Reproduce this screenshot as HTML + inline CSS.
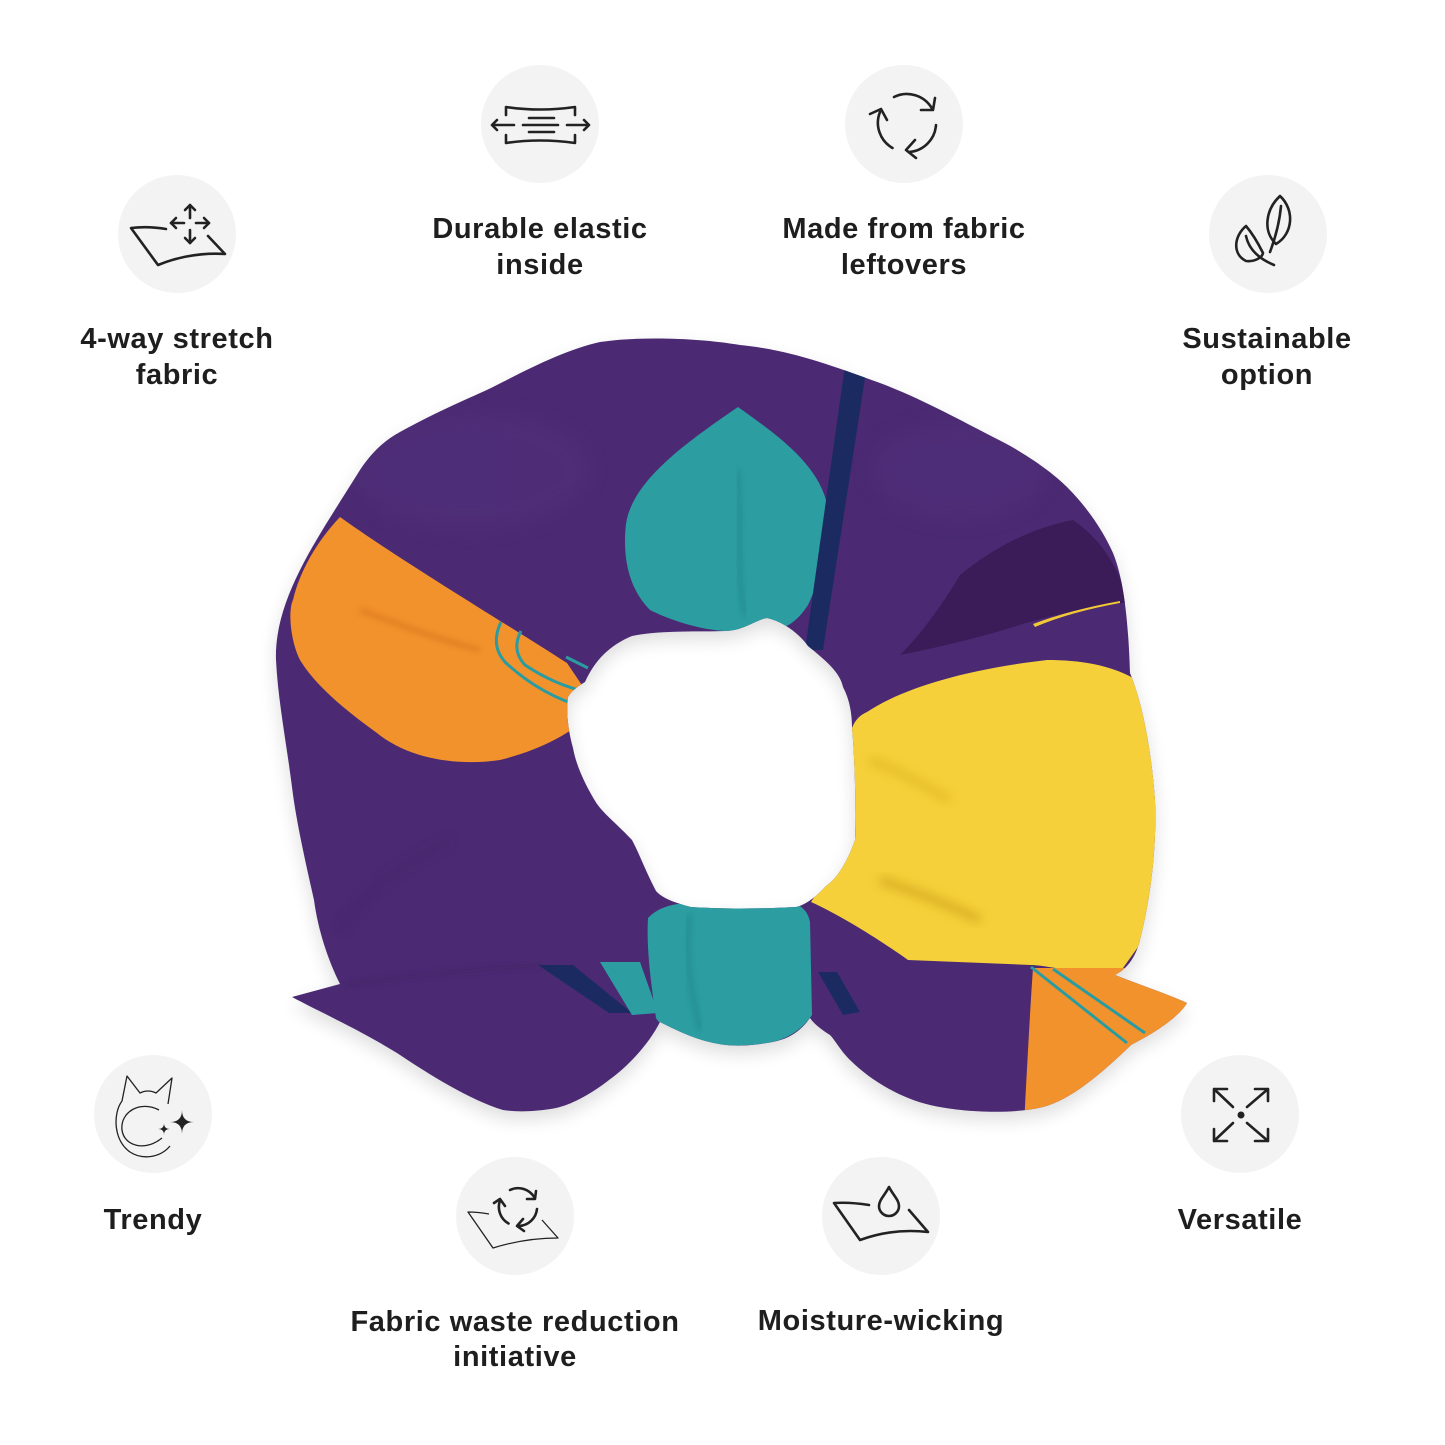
<!DOCTYPE html>
<html><head><meta charset="utf-8"><style>
html,body{margin:0;padding:0;background:#fff;}
svg{display:block;}
text{font-family:"Liberation Sans",Arial,sans-serif;font-weight:bold;font-size:29px;fill:#1e1e1e;letter-spacing:0.6px;}
</style></head><body>
<svg width="1445" height="1445" viewBox="0 0 1445 1445" xmlns="http://www.w3.org/2000/svg">
<defs>
<filter id="blur8" x="-20%" y="-20%" width="140%" height="140%"><feGaussianBlur stdDeviation="9"/></filter>
<filter id="blur3" x="-20%" y="-20%" width="140%" height="140%"><feGaussianBlur stdDeviation="3"/></filter>
<filter id="blur5" x="-20%" y="-20%" width="140%" height="140%"><feGaussianBlur stdDeviation="5"/></filter>
<path id="outer" d="M292,997 L340,984 C328,960 318,930 314,900 C305,860 296,820 292,787 C286,740 278,700 276,660 C275,630 285,600 300,570 C315,540 335,510 360,470 C372,452 385,440 400,432 C440,410 470,398 493,387 C530,368 565,350 600,342 C640,336 700,338 740,345 C790,350 830,365 880,383 C920,398 960,420 993,437 C1020,450 1050,470 1067,487 C1090,510 1105,535 1113,553 C1122,575 1128,610 1130,673 C1145,710 1152,760 1155,800 C1157,850 1150,900 1140,940 C1135,960 1125,970 1115,975 C1140,985 1170,995 1187,1003 C1180,1015 1160,1030 1131,1045 C1100,1075 1070,1100 1043,1107 C1010,1115 960,1112 930,1105 C900,1098 870,1080 850,1060 C840,1050 835,1040 830,1035 C822,1030 814,1024 810,1018 C800,1032 788,1040 767,1043 C750,1046 735,1046 726,1045 C700,1042 680,1032 660,1022 C650,1042 630,1065 609,1080 C590,1095 570,1105 556,1108 C535,1112 515,1112 503,1110 C470,1100 430,1075 397,1053 C360,1030 320,1012 292,997 Z M585,682 C595,660 610,645 632,636 C660,630 700,632 726,631 C745,630 755,620 767,618 C785,622 800,635 808,646 C825,660 840,672 843,687 C850,700 852,715 852,728 C855,760 856,810 855,840 C848,860 838,878 826,886 C815,898 805,905 796,907 C760,909 720,909 691,907 C675,903 662,898 656,891 C645,870 640,855 632,840 C618,825 605,815 597,804 C585,785 576,765 573,748 C568,730 566,712 568,697 C572,690 580,685 585,682 Z"/>
<clipPath id="body"><use href="#outer" clip-rule="evenodd"/></clipPath>
</defs>

<use href="#outer" fill="#000" fill-rule="evenodd" opacity="0.13" filter="url(#blur8)" transform="translate(0,8)"/>

<g clip-path="url(#body)">
  <rect x="250" y="320" width="960" height="820" fill="#4b2a73"/>
  <ellipse cx="470" cy="470" rx="120" ry="60" fill="#55347e" opacity="0.35" filter="url(#blur8)"/>
  <ellipse cx="960" cy="470" rx="90" ry="50" fill="#55347e" opacity="0.35" filter="url(#blur8)"/>
  <path d="M340,517 C400,560 500,620 567,663 L592,700 L592,714 C570,734 540,750 500,760 C460,766 410,760 377,733 C345,710 315,685 300,660 C290,640 288,610 293,600 C300,570 318,540 340,517 Z" fill="#f2922d"/>
  <path d="M360,610 C400,625 440,640 480,650" stroke="#d9761c" stroke-width="6" fill="none" opacity="0.6" filter="url(#blur3)"/>
  <g stroke="#2a9ca1" stroke-width="3" fill="none">
    <path d="M501,622 Q490,645 505,662 Q540,695 586,708"/>
    <path d="M521,631 Q511,650 525,665 Q555,685 587,692"/>
    <path d="M566,657 L588,668"/>
  </g>
  <path d="M738,407 C770,430 815,460 826,500 C832,540 820,580 808,605 C795,625 780,632 767,628 C755,635 740,636 726,631 C700,630 670,620 650,610 C630,590 622,560 626,524 C632,480 690,440 738,407 Z" fill="#2c9ea2"/>
  <path d="M738,470 C742,520 735,570 745,615" stroke="#1f7f84" stroke-width="4" fill="none" opacity="0.6" filter="url(#blur3)"/>
  <polygon points="845,365 867,365 823,650 805,650" fill="#1b2b61"/>
  <path d="M960,575 C990,550 1030,528 1073,520 C1095,535 1110,555 1120,578 L1130,602 C1100,606 1060,612 1013,627 C985,636 945,646 900,655 C925,630 945,600 960,575 Z" fill="#3b1c58"/>
  <path d="M1033,624 Q1070,610 1120,601 L1120,603 Q1070,612 1035,627 Z" fill="#f2c935"/>
  <path d="M867,712 C900,690 960,670 1047,660 C1080,660 1110,665 1133,678 C1148,710 1155,760 1158,800 C1160,850 1153,900 1143,940 L1118,975 L1102,977 C1070,970 1040,965 1031,965 L908,960 C880,940 840,915 811,902 C825,880 842,860 855,840 C857,800 852,760 852,728 C855,720 860,715 867,712 Z" fill="#f5d03a"/>
  <path d="M870,760 C900,770 930,790 950,800" stroke="#d7ad1e" stroke-width="7" fill="none" opacity="0.6" filter="url(#blur5)"/>
  <path d="M880,880 C910,890 950,905 980,920" stroke="#c99d14" stroke-width="9" fill="none" opacity="0.6" filter="url(#blur5)"/>
  <polygon points="538,965 573,965 632,1013 609,1013" fill="#1b2b61"/>
  <polygon points="600,962 640,962 658,1013 632,1015" fill="#2c9ea2"/>
  <polygon points="818,972 837,972 860,1012 843,1015" fill="#1b2b61"/>
  <path d="M648,918 C660,905 680,902 700,903 L792,903 C802,905 808,912 810,922 L812,1015 C802,1030 786,1040 767,1043 C745,1047 710,1046 690,1040 C675,1035 662,1028 656,1018 C652,990 646,950 648,918 Z" fill="#2c9ea2"/>
  <path d="M690,915 C685,950 690,990 700,1030" stroke="#1f7f84" stroke-width="4" fill="none" opacity="0.6" filter="url(#blur3)"/>
  <path d="M1033,968 L1210,968 L1210,1125 L1024,1125 C1027,1070 1030,1010 1033,968 Z" fill="#f2922d"/>
  <g stroke="#2a9ca1" stroke-width="3" fill="none">
    <path d="M1031,967 L1127,1043"/>
    <path d="M1053,969 L1145,1033"/>
  </g>
  <path d="M345,985 C420,975 490,968 540,965" stroke="#3d2060" stroke-width="3" fill="none" opacity="0.6" filter="url(#blur3)"/>
  <path d="M340,930 C380,870 420,860 450,840" stroke="#3d2060" stroke-width="6" fill="none" opacity="0.35" filter="url(#blur5)"/>
</g>

<g fill="#f3f3f3">
  <circle cx="177" cy="234" r="59"/>
  <circle cx="540" cy="124" r="59"/>
  <circle cx="904" cy="124" r="59"/>
  <circle cx="1268" cy="234" r="59"/>
  <circle cx="153" cy="1114" r="59"/>
  <circle cx="515" cy="1216" r="59"/>
  <circle cx="881" cy="1216" r="59"/>
  <circle cx="1240" cy="1114" r="59"/>
</g>

<g stroke="#222" stroke-width="2.6" fill="none" stroke-linecap="round" stroke-linejoin="round">
  <path d="M166,229 Q148,226 131,228 L158,265 Q190,252 225,254 L208,236"/>
  <path d="M190,205 L190,218 M190,230 L190,243 M171,223 L184,223 M196,223 L209,223"/>
  <path d="M185,210 L190,205 L195,210 M185,238 L190,243 L195,238 M176,218 L171,223 L176,228 M204,218 L209,223 L204,228"/>
  <path d="M506,115 L506,107 Q540,112 575,107 L575,115"/>
  <path d="M506,135 L506,143 Q540,138 575,143 L575,135"/>
  <path d="M529,118 L554,118 M523,125 L558,125 M529,132 L554,132"/>
  <path d="M492,125 L514,125 M497,120 L492,125 L497,130"/>
  <path d="M567,125 L589,125 M584,120 L589,125 L584,130"/>
  <path d="M894,97 A29,29 0 0 1 932,108.5"/>
  <path d="M921,110 L933,110 L935,98"/>
  <path d="M892.5,148 A29,29 0 0 1 880,112"/>
  <path d="M870,114 L881,109 L887,120"/>
  <path d="M936,125 A29,29 0 0 1 909,152"/>
  <path d="M915,140 L906,150 L916,158"/>
  <path d="M1276,244 C1263,232 1265,210 1280,196 C1295,210 1293,234 1276,244 Z"/>
  <path d="M1281,206 Q1279,228 1270,252"/>
  <path d="M1246,226 C1234,236 1232,254 1246,261 C1254,262 1262,258 1263,253 C1258,243 1252,233 1246,226 Z"/>
  <path d="M1246,236 Q1250,255 1274,265"/>
  <path d="M869,1205 Q850,1202 834,1203 L860,1240 Q893,1228 928,1232 L909,1210"/>
  <path d="M889,1187 C885,1195 879,1200 879,1206 C879,1212 884,1216 889,1216 C894,1216 899,1212 899,1206 C899,1200 893,1195 889,1187 Z"/>
  <path d="M1214,1089 L1233,1107 M1214,1101 L1214,1089 L1227,1089"/>
  <path d="M1268,1089 L1247,1107 M1268,1101 L1268,1089 L1255,1089"/>
  <path d="M1214,1141 L1233,1123 M1214,1129 L1214,1141 L1227,1141"/>
  <path d="M1268,1141 L1247,1123 M1268,1129 L1268,1141 L1255,1141"/>
  <path d="M510,1190 A19,19 0 0 1 534.5,1197.5"/>
  <path d="M527,1199 L535,1199 L536,1191"/>
  <path d="M508.5,1223.5 A19,19 0 0 1 500,1200.5"/>
  <path d="M494,1203 L500,1199 L505,1206"/>
  <path d="M537,1209 A19,19 0 0 1 519,1226"/>
  <path d="M523,1219 L517,1226 L524,1231"/>
</g>
<circle cx="1241" cy="1115" r="3.5" fill="#222"/>
<g stroke="#222" stroke-width="1.3" fill="none" stroke-linejoin="round">
  <path d="M489,1214 Q478,1212 468,1212 L493,1248 Q525,1238 558,1238 L542,1220"/>
  <path d="M168,1104 L172,1078 L156,1093 Q148,1089 140,1093 L127,1076 L122,1101 C113,1113 113,1140 130,1152 C142,1160 160,1158 170,1146"/>
  <path d="M159,1110 C140,1100 120,1112 122,1130 C124,1146 145,1152 162,1138"/>
</g>
<path d="M182,1110 Q182,1122 194,1122 Q182,1122 182,1134 Q182,1122 170,1122 Q182,1122 182,1110 Z" fill="#222"/>
<path d="M164,1123 Q164,1129 170,1129 Q164,1129 164,1135 Q164,1129 158,1129 Q164,1129 164,1123 Z" fill="#222"/>

<g text-anchor="middle">
  <text x="177" y="348">4-way stretch</text>
  <text x="177" y="384">fabric</text>
  <text x="540" y="238">Durable elastic</text>
  <text x="540" y="274">inside</text>
  <text x="904" y="238">Made from fabric</text>
  <text x="904" y="274">leftovers</text>
  <text x="1267" y="348">Sustainable</text>
  <text x="1267" y="384">option</text>
  <text x="153" y="1229">Trendy</text>
  <text x="515" y="1331">Fabric waste reduction</text>
  <text x="515" y="1366">initiative</text>
  <text x="881" y="1330">Moisture-wicking</text>
  <text x="1240" y="1229">Versatile</text>
</g>
</svg>
</body></html>
